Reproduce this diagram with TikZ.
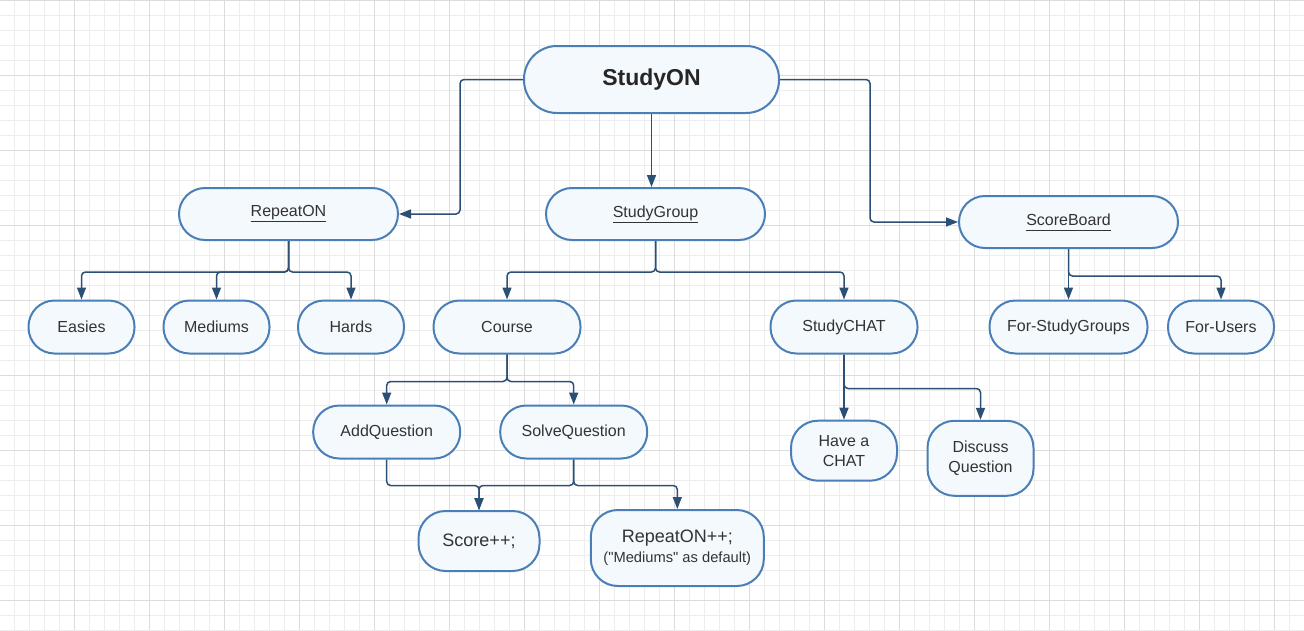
\documentclass[tikz,border=0pt]{standalone}
\usepackage{fontspec}
\setmainfont{Liberation Sans}
\usetikzlibrary{arrows.meta,positioning}
\definecolor{pillfill}{HTML}{F4F9FE}
\definecolor{pillborder}{HTML}{4A7EB6}
\definecolor{linkblue}{HTML}{2C4F75}
\definecolor{textgray}{HTML}{333333}
\definecolor{gridminor}{HTML}{EDEDED}
\definecolor{gridmajor}{HTML}{DCDCDC}
\newcommand{\uname}[1]{\underline{#1\vphantom{y}}}
\tikzset{
  pill/.style={draw=pillborder, line width=2pt, fill=pillfill, text=textgray, align=center, inner sep=0pt, rounded corners=26pt, minimum height=53pt, font=\fontsize{16}{20}\selectfont},
  rootbox/.style={pill, rounded corners=33pt, minimum width=255pt, minimum height=67pt, font=\fontsize{23}{27}\selectfont\bfseries, text=black!85},
  groupbox/.style={pill, minimum width=219pt, minimum height=52pt},
  leafbox/.style={pill, minimum width=106pt},
  widebox/.style={pill, minimum width=147pt},
  tallbox/.style={pill, minimum width=106pt, minimum height=60pt, rounded corners=27pt},
  link/.style={-{Triangle[length=12pt,width=9pt]}, line width=1.5pt, draw=linkblue, rounded corners=4pt},
  minorline/.style={draw=gridminor, line width=1pt},
  majorline/.style={draw=gridmajor, line width=1pt}
}
\begin{document}
\begin{tikzpicture}[x=1pt, y=-1pt, on grid]
  \useasboundingbox (0,0) rectangle (1304,630);
  % background grid
  \foreach \gx in {14,29,...,1304} {\draw[minorline] (\gx,0) -- (\gx,630);}
  \foreach \gy in {0,15,...,630} {\draw[minorline] (0,\gy) -- (1304,\gy);}
  \foreach \gx in {74,149,...,1304} {\draw[majorline] (\gx,0) -- (\gx,630);}
  \foreach \gy in {0,75,...,630} {\draw[majorline] (0,\gy) -- (1304,\gy);}

  \node[rootbox] (studyon) at (651.5,79.5) {StudyON};
  \node[groupbox, below left=134.5pt and 363pt of studyon] (repeaton) {\uname{RepeatON}};
  \node[groupbox, below=134.5pt of studyon, xshift=4pt] (studygroup) {\uname{StudyGroup}};
  \node[groupbox, below right=142.5pt and 417pt of studyon] (scoreboard) {\uname{ScoreBoard}};

  \node[leafbox, below left=113pt and 207pt of repeaton] (easies) {Easies};
  \node[leafbox, right=135pt of easies] (mediums) {Mediums};
  \node[leafbox, right=134.5pt of mediums] (hards) {Hards};
  \node[widebox, below left=113pt and 148.5pt of studygroup] (course) {Course};
  \node[widebox, right=337pt of course] (studychat) {StudyCHAT};
  \node[pill, minimum width=158pt, below=105pt of scoreboard] (forgroups) {For-StudyGroups};
  \node[leafbox, right=152.5pt of forgroups] (forusers) {For-Users};

  \node[widebox, below left=105pt and 120.3pt of course] (addq) {AddQuestion};
  \node[widebox, right=187pt of addq] (solveq) {SolveQuestion};
  \node[tallbox, minimum width=121pt, below left=109pt and 94.7pt of solveq] (scorepp) {\fontsize{18}{21}\selectfont Score++;};
  \node[pill, minimum width=173pt, minimum height=76pt, rounded corners=27pt, right=198.3pt of scorepp, yshift=-7pt] (repeatpp)
    {{\fontsize{18}{21}\selectfont RepeatON++;}\\{\fontsize{14.7}{17}\selectfont (\textquotedbl Mediums\textquotedbl{} as default)}};
  \node[tallbox, below=123.7pt of studychat] (havechat) {Have a\\CHAT};
  \node[tallbox, minimum height=75pt, right=136.5pt of havechat, yshift=-7.6pt] (discuss) {Discuss\\Question};

  \draw[link] (studyon.west) -- ++(-63,0) |- (repeaton.east);
  \draw[link] (studyon.south) -- (studyon.south |- studygroup.north);
  \draw[link] (studyon.east) -- ++(90,0) |- (scoreboard.west);

  \draw[link] (repeaton.south) -- ++(0,31) -| (easies.north);
  \draw[link] (repeaton.south) -- ++(0,31) -| (mediums.north);
  \draw[link] (repeaton.south) -- ++(0,31) -| (hards.north);
  \draw[link] (studygroup.south) -- ++(0,31) -| (course.north);
  \draw[link] (studygroup.south) -- ++(0,31) -| (studychat.north);
  \draw[link] (scoreboard.south) -- (forgroups.north);
  \draw[link] (scoreboard.south) -- ++(0,27) -| (forusers.north);

  \draw[link] (course.south) -- ++(0,27) -| (addq.north);
  \draw[link] (course.south) -- ++(0,27) -| (solveq.north);
  \draw[link] (addq.south) -- ++(0,26) -| (scorepp.north);
  \draw[link] (solveq.south) -- ++(0,26) -| (scorepp.north);
  \draw[link] (solveq.south) -- ++(0,26) -| (repeatpp.north);
  \draw[link] (studychat.south) -- (studychat.south |- havechat.north);
  \draw[link] (studychat.south) -- ++(0,34) -| (discuss.north);
\end{tikzpicture}
\end{document}
